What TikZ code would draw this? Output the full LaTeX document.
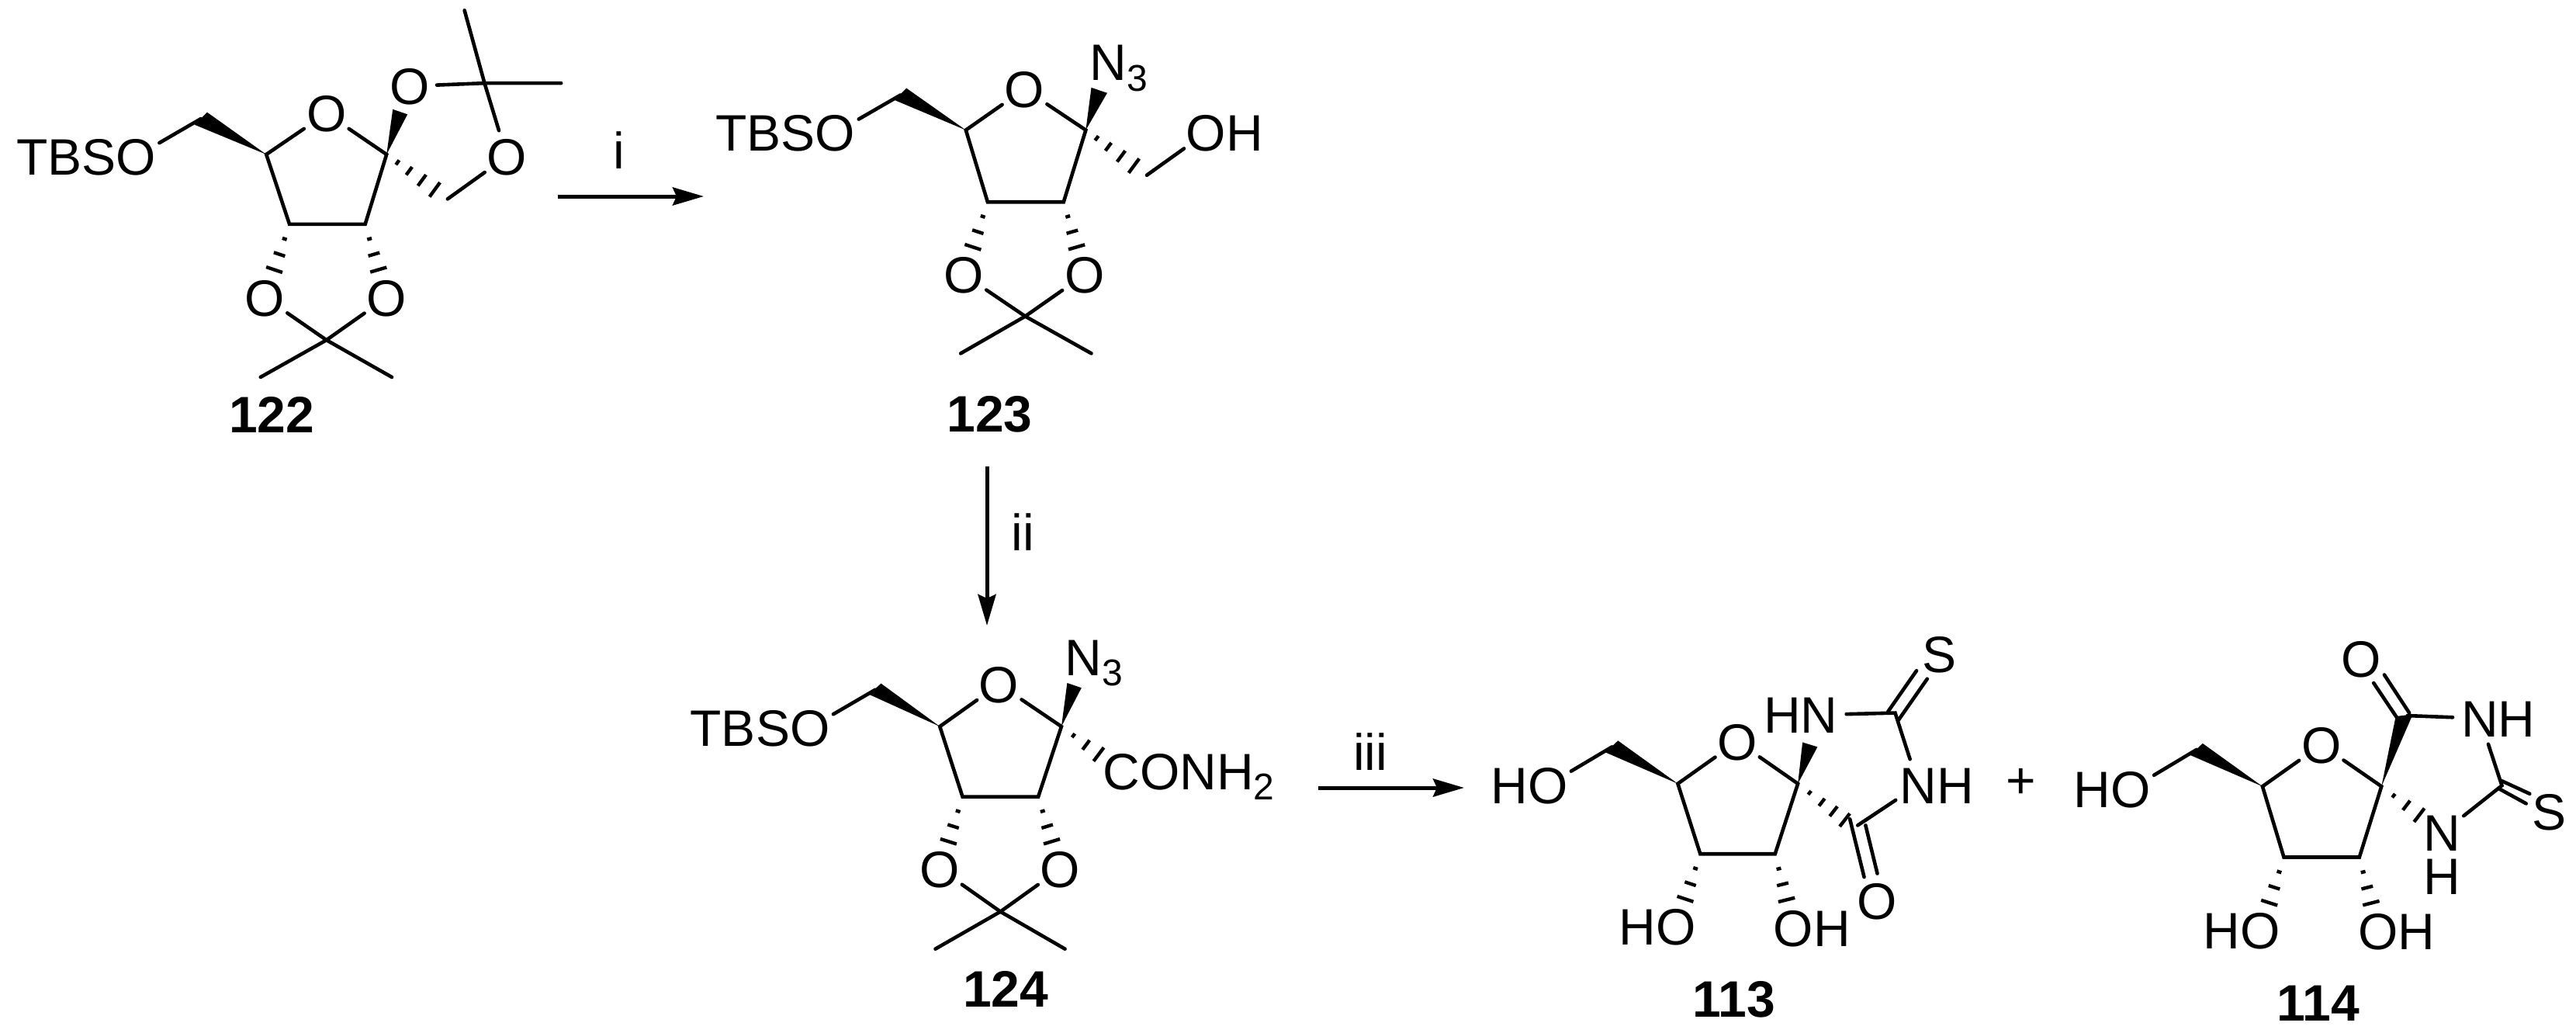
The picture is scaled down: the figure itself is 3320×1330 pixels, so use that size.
\documentclass[tikz,border=0pt]{standalone}
\usepackage{fontspec}
\setmainfont{Liberation Sans}
\usetikzlibrary{calc,arrows.meta}
\newcommand{\atm}[3]{\raisebox{-0.358em}[0pt][0pt]{\makebox[0pt][c]{\makebox[0pt][r]{#1}#2\makebox[0pt][l]{#3}}}}
\newcommand{\subsc}[1]{\raisebox{-0.2em}{\fontsize{24}{24}\selectfont #1}}
% hashed bond from A towards B; list of fraction/half-width(pt)
\newcommand{\hashb}[3]{\foreach \t/\w in {#3}{\draw[stripe] ($(#1)!\t!(#2)!\w pt!90:(#2)$) -- ($(#1)!\t!(#2)!\w pt!-90:(#2)$);}}
\newcommand{\hashC}[2]{\hashb{#1}{#2}{0.2/1.5,0.41/3.8,0.62/5.5}}
\newcommand{\hashD}[2]{\hashb{#1}{#2}{0.18/1.8,0.37/3.2,0.58/4.4,0.79/5.7}}
\tikzset{
  every node/.style={font=\fontsize{33}{33}\selectfont},
  bond/.style={line width=2.3pt,line cap=round,line join=miter},
  stripe/.style={line width=2.2pt,line cap=butt},
  wedgefill/.style={fill=black,draw=none},
  atom/.style={circle,inner sep=0pt,outer sep=0pt,minimum size=35pt},
  cpd/.style={font=\fontsize{33}{33}\selectfont\bfseries},
  rxn/.style={line width=2.5pt,-{Stealth[length=20pt,width=11.5pt,inset=2.5pt]}},
  cropA/.style={x=0.28698pt,y=-0.19133pt},
  cropB/.style={x=0.2551pt,y=-0.19133pt},
  cropC/.style={x=0.28698pt,y=-0.17538pt},
  cropD/.style={x=0.22959pt,y=-0.17538pt},
}
\begin{document}
\begin{tikzpicture}[x=0.5pt,y=-0.5pt]
\useasboundingbox (0,0) rectangle (3320,1330);

% ---------- 122 ----------
\begin{scope}[shift={(0,0)},cropA]
\node[atom] (aTBSO) at (305,527) {\atm{TBS}{O}{}};
\node[atom] (aO) at (733,382) {\atm{}{O}{}};
\node[atom] (aOt) at (920,290) {\atm{}{O}{}};
\node[atom] (aOr) at (1138,527) {\atm{}{O}{}};
\node[atom] (aOa) at (595,1002) {\atm{}{O}{}};
\node[atom] (aOb) at (868,1002) {\atm{}{O}{}};
\coordinate (aC6) at (451,400);
\coordinate (aC4) at (598,520);
\coordinate (aC1) at (868,520);
\coordinate (aC2) at (820,755);
\coordinate (aC3) at (650,755);
\coordinate (aCq) at (1088,280);
\coordinate (aM1) at (1043,35);
\coordinate (aM2) at (1260,280);
\coordinate (aV) at (1005,670);
\coordinate (aCp) at (733,1145);
\coordinate (aM3) at (585,1270);
\coordinate (aM4) at (880,1270);
\draw[bond] (aTBSO) -- (aC6);
\fill[wedgefill] (aC4) -- (465,378) -- (437,420) -- cycle;
\draw[bond] (aO) -- (aC4) -- (aC3) -- (aC2) -- (aC1) -- (aO);
\fill[wedgefill] (aC1) -- (882,368) -- (915,385) -- cycle;
\draw[bond] (aOt) -- (aCq) -- (aM2);
\draw[bond] (aM1) -- (aCq) -- (aOr);
\draw[bond] (aV) -- (aOr);
\hashD{aC1}{aV}
\hashC{aC3}{aOa}
\hashC{aC2}{aOb}
\draw[bond] (aOa) -- (aCp) -- (aM4);
\draw[bond] (aOb) -- (aCp) -- (aM3);
\node[cpd] (aL) at (610,1397) {122};
\end{scope}

% ---------- 123 ----------
\begin{scope}[shift={(880,0)},cropB]
\node[atom] (bTBSO) at (385,447) {\atm{TBS}{O}{}};
\node[atom] (bO) at (863,300) {\atm{}{O}{}};
\node[atom] (bN) at (1075,210) {\atm{}{N}{\subsc{3}}};
\node[atom] (bOH) at (1322,447) {\atm{}{O}{H}};
\node[atom] (bOa) at (710,925) {\atm{}{O}{}};
\node[atom] (bOb) at (1015,925) {\atm{}{O}{}};
\coordinate (bC6) at (550,320);
\coordinate (bC4) at (715,438);
\coordinate (bC1) at (1018,438);
\coordinate (bC2) at (962,680);
\coordinate (bC3) at (770,680);
\coordinate (bV) at (1172,590);
\coordinate (bCp) at (865,1065);
\coordinate (bM3) at (702,1190);
\coordinate (bM4) at (1032,1190);
\draw[bond] (bTBSO) -- (bC6);
\fill[wedgefill] (bC4) -- (565,297) -- (535,337) -- cycle;
\draw[bond] (bO) -- (bC4) -- (bC3) -- (bC2) -- (bC1) -- (bO);
\fill[wedgefill] (bC1) -- (1032,295) -- (1072,313) -- cycle;
\draw[bond] (bV) -- (bOH);
\hashD{bC1}{bV}
\hashC{bC3}{bOa}
\hashC{bC2}{bOb}
\draw[bond] (bOa) -- (bCp) -- (bM4);
\draw[bond] (bOb) -- (bCp) -- (bM3);
\node[cpd] (bL) at (775,1395) {123};
\end{scope}

% ---------- 124 ----------
\begin{scope}[shift={(860,780)},cropC]
\node[atom] (cTBSO) at (320,450) {\atm{TBS}{O}{}};
\node[atom] (cO) at (745,290) {\atm{}{O}{}};
\node[atom] (cN) at (935,190) {\atm{}{N}{\subsc{3}}};
\node[atom] (cCO) at (1020,610) {\atm{}{C}{ONH\subsc{2}}};
\node[atom] (cOa) at (612,968) {\atm{}{O}{}};
\node[atom] (cOb) at (882,968) {\atm{}{O}{}};
\coordinate (cC6) at (467,310);
\coordinate (cC4) at (612,445);
\coordinate (cC1) at (885,445);
\coordinate (cC2) at (833,703);
\coordinate (cC3) at (663,703);
\coordinate (cCp) at (748,1125);
\coordinate (cM3) at (602,1262);
\coordinate (cM4) at (893,1262);
\draw[bond] (cTBSO) -- (cC6);
\fill[wedgefill] (cC4) -- (480,287) -- (453,327) -- cycle;
\draw[bond] (cO) -- (cC4) -- (cC3) -- (cC2) -- (cC1) -- (cO);
\fill[wedgefill] (cC1) -- (898,285) -- (930,303) -- cycle;
\hashC{cC1}{cCO}
\hashC{cC3}{cOa}
\hashC{cC2}{cOb}
\draw[bond] (cOa) -- (cCp) -- (cM4);
\draw[bond] (cOb) -- (cCp) -- (cM3);
\node[cpd] (cL) at (760,1410) {124};
\end{scope}

% ---------- 113 ----------
\begin{scope}[shift={(1880,780)},cropD]
\node[atom] (dHO) at (250,660) {\atm{H}{O}{}};
\node[atom] (dO) at (782,500) {\atm{}{O}{}};
\node[atom] (dHN) at (1012,402) {\atm{H}{N}{}};
\node[atom] (dS) at (1350,180) {\atm{}{S}{}};
\node[atom] (dNH) at (1290,660) {\atm{}{N}{H}};
\node[atom] (dOc) at (1175,1085) {\atm{}{O}{}};
\node[atom] (dHOb) at (610,1180) {\atm{H}{O}{}};
\node[atom] (dOHb) at (940,1185) {\atm{}{O}{H}};
\coordinate (dC6) at (430,520);
\coordinate (dC4) at (615,655);
\coordinate (dC1) at (952,655);
\coordinate (dC2) at (888,913);
\coordinate (dC3) at (678,913);
\coordinate (dCs) at (1225,395);
\coordinate (dCc) at (1120,808);
\coordinate (dV) at (1095,800);
\coordinate (dS1a) at (1205,390);
\coordinate (dS1b) at (1285,240);
\coordinate (dS2a) at (1235,420);
\coordinate (dS2b) at (1315,270);
\coordinate (dO1a) at (1098,785);
\coordinate (dO1b) at (1138,998);
\coordinate (dO2a) at (1142,808);
\coordinate (dO2b) at (1175,985);
\draw[bond] (dHO) -- (dC6);
\fill[wedgefill] (dC4) -- (447,497) -- (412,540) -- cycle;
\draw[bond] (dO) -- (dC4) -- (dC3) -- (dC2) -- (dC1) -- (dO);
\fill[wedgefill] (dC1) -- (965,503) -- (1007,520) -- cycle;
\draw[bond] (dHN) -- (dCs) -- (dNH);
\draw[bond] (dS1a) -- (dS1b);
\draw[bond] (dS2a) -- (dS2b);
\draw[bond] (dNH) -- (dCc);
\draw[bond] (dO1a) -- (dO1b);
\draw[bond] (dO2a) -- (dO2b);
\hashb{dC1}{dV}{0.23/1.5,0.47/3,0.70/4,0.92/5.3}
\hashC{dC3}{dHOb}
\hashC{dC2}{dOHb}
\node[cpd] (dL) at (772,1447) {113};
\end{scope}

% ---------- 114 ----------
\begin{scope}[shift={(2600,780)},cropD]
\node[atom] (eHO) at (318,675) {\atm{H}{O}{}};
\node[atom] (eO) at (853,512) {\atm{}{O}{}};
\node[atom] (eNH) at (1298,415) {\atm{}{N}{H}};
\node[atom] (eOc) at (965,195) {\atm{}{O}{}};
\node[atom] (eS) at (1492,758) {\atm{}{S}{}};
\node[atom] (eN) at (1193,835) {\atm{}{N}{}};
\node[atom] (eNh) at (1193,995) {\atm{}{H}{}};
\node[atom] (eHOb) at (682,1195) {\atm{H}{O}{}};
\node[atom] (eOHb) at (1013,1197) {\atm{}{O}{H}};
\coordinate (eC6) at (503,530);
\coordinate (eC4) at (688,665);
\coordinate (eC1) at (1022,665);
\coordinate (eC2) at (960,925);
\coordinate (eC3) at (748,925);
\coordinate (eCc) at (1095,405);
\coordinate (eCs) at (1360,662);
\coordinate (eO1a) at (1000,285);
\coordinate (eO1b) at (1065,412);
\coordinate (eO2a) at (1030,255);
\coordinate (eO2b) at (1100,395);
\coordinate (eS1a) at (1360,645);
\coordinate (eS1b) at (1438,692);
\coordinate (eS2a) at (1350,672);
\coordinate (eS2b) at (1428,728);
\draw[bond] (eHO) -- (eC6);
\fill[wedgefill] (eC4) -- (520,507) -- (485,550) -- cycle;
\draw[bond] (eO) -- (eC4) -- (eC3) -- (eC2) -- (eC1) -- (eO);
\fill[wedgefill] (eC1) -- (1062,408) -- (1110,400) -- cycle;
\draw[bond] (eCc) -- (eNH) -- (eCs) -- (eN);
\draw[bond] (eO1a) -- (eO1b);
\draw[bond] (eO2a) -- (eO2b);
\draw[bond] (eS1a) -- (eS1b);
\draw[bond] (eS2a) -- (eS2b);
\hashC{eC1}{eN}
\hashC{eC3}{eHOb}
\hashC{eC2}{eOHb}
\node[cpd] (eL) at (845,1462) {114};
\end{scope}

% ---------- arrows and reagents ----------
\coordinate (r1a) at (719,253);
\coordinate (r1b) at (907,253);
\draw[rxn] (r1a) -- (r1b);
\node[anchor=base] (r1) at (798,217) {i};
\coordinate (r2a) at (1272,601);
\coordinate (r2b) at (1272,806);
\draw[rxn] (r2a) -- (r2b);
\node[anchor=base] (r2) at (1318,709) {ii};
\coordinate (r3a) at (1699,1015);
\coordinate (r3b) at (1887,1015);
\draw[rxn] (r3a) -- (r3b);
\node[anchor=base] (r3) at (1766,992) {iii};
\node[anchor=base] (plus) at (2605,1028) {+};
\end{tikzpicture}
\end{document}
